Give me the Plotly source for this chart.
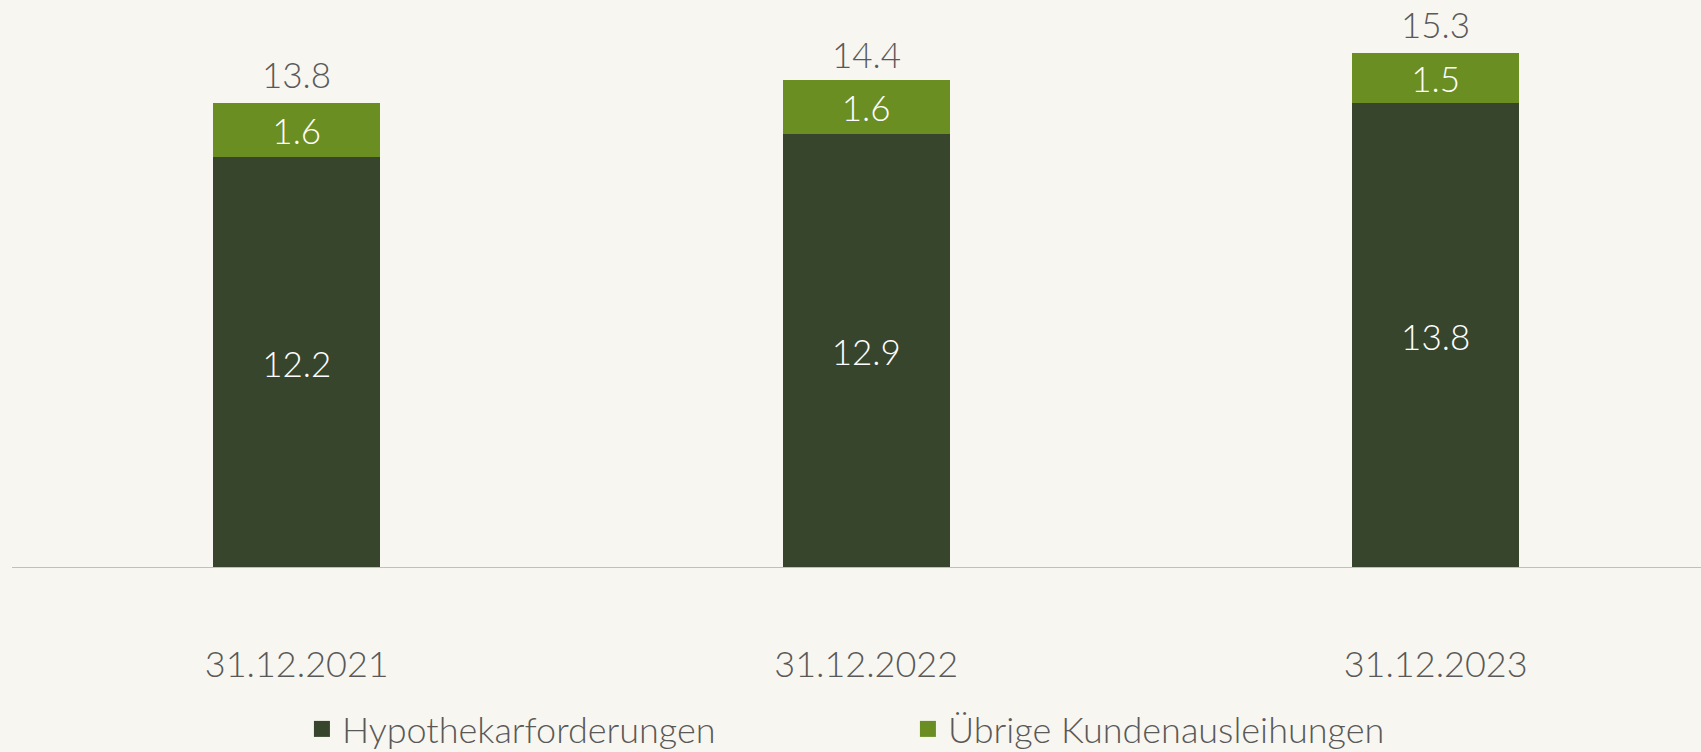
import plotly.graph_objects as go

categories = ["31.12.2021", "31.12.2022", "31.12.2023"]
hypothek = [12.2, 12.9, 13.8]
uebrige = [1.6, 1.6, 1.5]
totals = [13.8, 14.4, 15.3]
series_names = ["Hypothekarforderungen", "Übrige Kundenausleihungen"]

DARK = "rgb(55,69,45)"
GREEN = "rgb(106,142,34)"
BG = "rgb(248,246,240)"
GRAY = "rgb(89,89,89)"
FONT = "Lato"
FS = 35

x = list(range(len(categories)))

fig = go.Figure()
for name, vals, col in [(series_names[0], hypothek, DARK), (series_names[1], uebrige, GREEN)]:
    fig.add_trace(go.Bar(
        x=x, y=vals, name=name, marker=dict(color=col, line=dict(width=0)),
        width=0.293, text=[f"{v:.1f}" for v in vals], texttemplate="%{text}",
        textposition="inside", insidetextanchor="middle", constraintext="none",
        textfont=dict(color="white", size=FS, family=FONT, weight=300),
        showlegend=False, hoverinfo="skip",
    ))
    fig.add_trace(go.Scatter(
        x=[None], y=[None], mode="markers", name=name,
        marker=dict(symbol="square", size=20, color=col),
    ))

for xi, t in zip(x, totals):
    fig.add_annotation(x=xi, y=t, text=f"{t:.1f}", showarrow=False,
                       yanchor="bottom", yshift=6,
                       font=dict(size=FS, color=GRAY, family=FONT, weight=300))

fig.update_layout(
    barmode="stack",
    width=1701, height=752,
    margin=dict(l=12, r=0, t=0, b=184),
    paper_bgcolor=BG, plot_bgcolor=BG,
    font=dict(family=FONT, color=GRAY, size=FS, weight=300),
    xaxis=dict(range=[-0.5, 2.466], tickvals=x, ticktext=categories,
               showgrid=False, zeroline=False, showline=False,
               ticks="", ticklabelstandoff=72, automargin=False,
               tickfont=dict(size=36, color=GRAY, family=FONT, weight=300)),
    yaxis=dict(range=[0, 16.87], visible=False, showgrid=False, zeroline=False),
    legend=dict(orientation="h", xref="container", yref="container",
                x=0.1775, xanchor="left", y=23 / 752, yanchor="middle",
                traceorder="normal",
                font=dict(size=36, color=GRAY, family=FONT, weight=300),
                itemwidth=30, bgcolor="rgba(0,0,0,0)", entrywidth=561),
    shapes=[dict(type="line", xref="paper", yref="y", x0=0, x1=1, y0=0, y1=0,
                 line=dict(color="rgb(191,191,191)", width=2))],
)

fig.write_html("out.html", config={"displayModeBar": False},
               post_script="document.body.style.margin='0';document.body.style.padding='0';document.body.style.overflow='hidden';")
